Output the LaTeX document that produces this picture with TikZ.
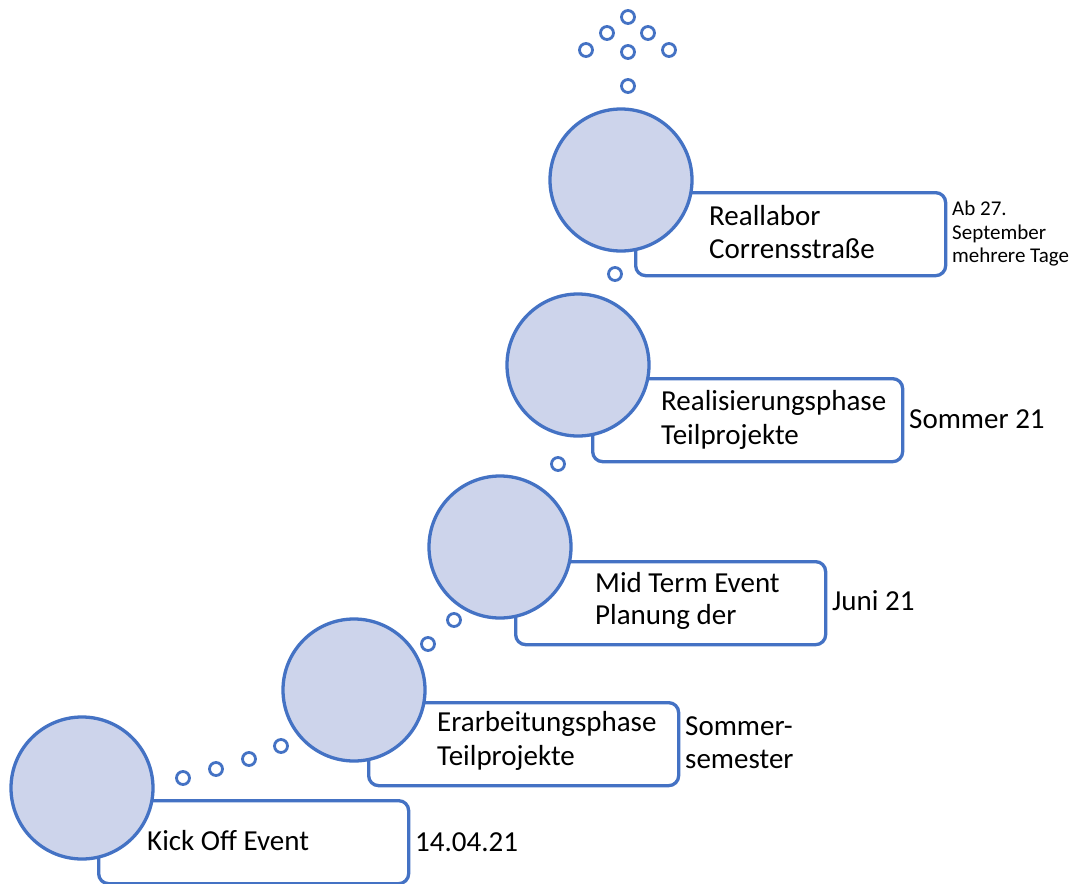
\documentclass[tikz,border=0pt]{standalone}
\usepackage{fontspec}
\setmainfont{Carlito}
\definecolor{ob}{RGB}{68,114,196}
\definecolor{lav}{RGB}{205,212,235}
\begin{document}
\begin{tikzpicture}[x=1pt,y=-1pt,
  bigc/.style={circle, draw=ob, fill=lav, line width=3.3pt, minimum size=142pt, inner sep=0pt},
  dotc/.style={circle, draw=ob, fill=white, line width=2.8pt, minimum size=13pt, inner sep=0pt},
  box/.style={rectangle, rounded corners=10pt, draw=ob, fill=white, line width=3.3pt,
              minimum width=310pt, minimum height=83pt, anchor=north west, inner sep=0pt},
  lbl/.style={anchor=base west, inner sep=0pt, font=\fontsize{29}{33}\selectfont},
  sdt/.style={anchor=base west, inner sep=0pt, font=\fontsize{21}{23.5}\selectfont}]
\useasboundingbox (0,0) rectangle (1075,883);
\fill[white] (0,0) rectangle (1075,883);

% boxes
\node[box] (r1) at (97,799) {};
\node[box] (r2) at (367,701) {};
\node[box] (r3) at (514,560) {};
\node[box] (r4) at (591,377) {};
\node[box] (r5) at (634,191) {};

% big circles
\node[bigc] (c1) at (82,788) {};
\node[bigc] (c2) at (354,690) {};
\node[bigc] (c3) at (500,547) {};
\node[bigc] (c4) at (578,365) {};
\node[bigc] (c5) at (621,180) {};

% small dots
\node[dotc] (d1) at (183,778) {};
\node[dotc] (d2) at (216,769) {};
\node[dotc] (d3) at (249,759) {};
\node[dotc] (d4) at (281,746) {};
\node[dotc] (d5) at (428,644) {};
\node[dotc] (d6) at (454,620) {};
\node[dotc] (d7) at (558,464) {};
\node[dotc] (d8) at (615,274) {};
\node[dotc] (d9) at (628,86) {};
\node[dotc] (e1) at (628,17) {};
\node[dotc] (e2) at (607,33) {};
\node[dotc] (e3) at (648,33) {};
\node[dotc] (e4) at (586,50) {};
\node[dotc] (e5) at (628,52) {};
\node[dotc] (e6) at (669,50) {};

% labels in boxes
\node[lbl] (t1) at (147,850) {Kick Off Event};
\node[lbl] (t2a) at (437,731) {Erarbeitungsphase};
\node[lbl] (t2b) at (437,765) {Teilprojekte};
\node[lbl] (t3a) at (595,592) {Mid Term Event};
\node[lbl] (t3b) at (595,624) {Planung der};
\node[lbl] (t4a) at (661,410) {Realisierungsphase};
\node[lbl] (t4b) at (661,444) {Teilprojekte};
\node[lbl] (t5a) at (709,225) {Reallabor};
\node[lbl] (t5b) at (709,258) {Corrensstraße};

% dates
\node[lbl] (a1) at (415,851) {14.04.21};
\node[lbl] (a2a) at (685,735) {Sommer-};
\node[lbl] (a2b) at (685,768) {semester};
\node[lbl] (a3) at (832,610) {Juni 21};
\node[lbl] (a4) at (909,428) {Sommer 21};
\node[sdt] (a5a) at (952,215) {Ab 27.};
\node[sdt] (a5b) at (952,239) {September};
\node[sdt] (a5c) at (952,262) {mehrere Tage};
\end{tikzpicture}
\end{document}
